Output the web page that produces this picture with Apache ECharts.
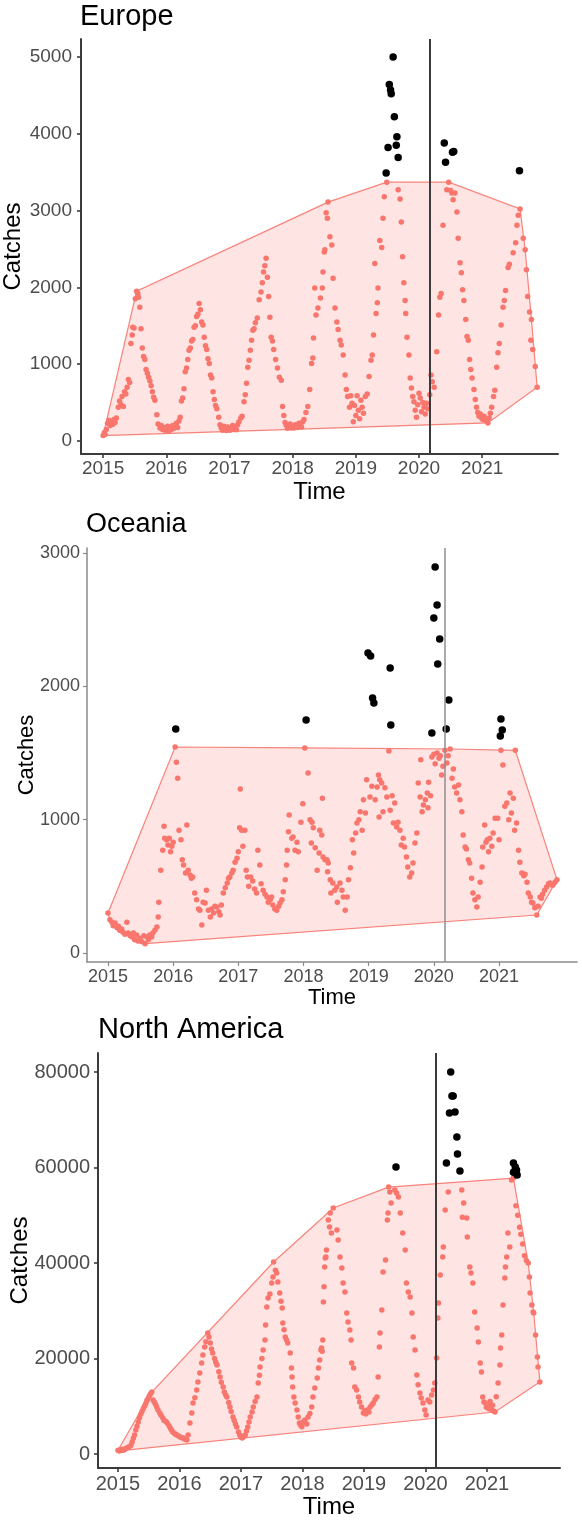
<!DOCTYPE html>
<html>
<head>
<meta charset="utf-8">
<title>Catches by region</title>
<script src="https://cdn.jsdelivr.net/npm/echarts@6/dist/echarts.min.js"></script>
<style>
  html, body { margin: 0; padding: 0; background: #fff; }
  #main { width: 582px; height: 1523px; }
</style>
</head>
<body>
<div id="main"></div>
<script>
// weekly catches, [decimal year, catches]
const europeCatches = [
  [2015.00,70],[2015.02,110],[2015.03,85],[2015.05,150],[2015.07,230],[2015.09,270],[2015.11,200],[2015.13,250],[2015.15,215],[2015.17,280],[2015.19,240],[2015.21,300],
  [2015.24,440],[2015.26,520],[2015.28,470],[2015.30,580],[2015.32,450],[2015.34,640],[2015.36,610],[2015.38,700],[2015.40,800],[2015.42,760],[2015.44,1270],[2015.46,1380],
  [2015.47,1480],[2015.49,1470],[2015.51,1850],[2015.53,1950],[2015.55,1920],[2015.56,1870],[2015.58,1740],[2015.60,1460],[2015.62,1210],[2015.64,1100],[2015.66,1060],
  [2015.68,930],[2015.70,880],[2015.72,830],[2015.74,780],[2015.76,720],[2015.78,640],[2015.80,570],[2015.82,530],[2015.85,340],[2015.87,220],[2015.90,170],[2015.92,200],
  [2015.94,150],[2015.96,175],[2015.98,140],[2016.00,160],[2016.02,190],[2016.04,130],[2016.06,170],[2016.08,150],[2016.10,200],[2016.12,165],[2016.14,190],[2016.16,230],
  [2016.18,175],[2016.20,260],[2016.22,310],[2016.24,520],[2016.26,560],[2016.28,680],[2016.30,900],[2016.32,950],[2016.34,1060],[2016.36,1180],[2016.38,1210],[2016.40,1300],
  [2016.42,1320],[2016.44,1480],[2016.46,1500],[2016.48,1620],[2016.50,1650],[2016.52,1790],[2016.54,1710],[2016.56,1550],[2016.58,1510],[2016.60,1350],[2016.62,1240],
  [2016.64,1190],[2016.66,1070],[2016.68,1010],[2016.70,860],[2016.72,820],[2016.74,640],[2016.76,540],[2016.78,460],[2016.80,420],[2016.83,310],[2016.85,210],[2016.87,170],
  [2016.89,140],[2016.91,190],[2016.93,160],[2016.95,135],[2016.97,180],[2016.99,145],[2017.01,140],[2017.03,170],[2017.05,200],[2017.07,150],[2017.09,175],[2017.11,145],
  [2017.13,210],[2017.15,250],[2017.18,300],[2017.20,320],[2017.23,510],[2017.25,600],[2017.27,750],[2017.29,960],[2017.31,1050],[2017.33,1180],[2017.35,1310],[2017.37,1440],
  [2017.39,1460],[2017.41,1540],[2017.44,1600],[2017.47,1840],[2017.50,1940],[2017.52,2060],[2017.54,2200],[2017.56,2280],[2017.58,2380],[2017.60,2130],[2017.62,1880],
  [2017.64,1610],[2017.66,1350],[2017.68,1300],[2017.70,1190],[2017.73,1060],[2017.76,950],[2017.79,830],[2017.82,790],[2017.84,450],[2017.86,330],[2017.88,240],[2017.90,200],
  [2017.92,165],[2017.94,190],[2017.96,220],[2017.98,170],[2018.00,185],[2018.02,170],[2018.04,210],[2018.06,180],[2018.08,175],[2018.10,230],[2018.12,200],[2018.14,180],
  [2018.16,250],[2018.18,280],[2018.21,370],[2018.24,450],[2018.27,670],[2018.30,1010],[2018.32,1080],[2018.33,1340],[2018.35,1990],[2018.37,1640],[2018.40,1730],[2018.44,1860],
  [2018.47,1990],[2018.48,2200],[2018.50,2460],[2018.51,2490],[2018.53,2970],[2018.55,2900],[2018.56,3110],[2018.59,2660],[2018.62,2550],[2018.64,2120],[2018.67,1730],
  [2018.70,1550],[2018.72,1450],[2018.75,1310],[2018.77,1250],[2018.80,1120],[2018.83,860],[2018.85,670],[2018.87,580],[2018.90,440],[2018.92,590],[2018.94,490],[2018.96,250],
  [2018.98,460],[2019.00,330],[2019.02,590],[2019.04,400],[2019.06,290],[2019.08,530],[2019.10,440],[2019.12,360],[2019.15,580],[2019.18,610],[2019.21,840],[2019.24,1050],
  [2019.26,1120],[2019.28,1380],[2019.30,2310],[2019.32,1660],[2019.34,1800],[2019.35,1990],[2019.38,2610],[2019.41,2520],[2019.43,2900],[2019.45,3180],[2019.49,3370],
  [2019.67,3270],[2019.70,3150],[2019.72,2850],[2019.74,2400],[2019.76,2060],[2019.78,1830],[2019.79,1660],[2019.81,1350],[2019.84,1120],[2019.86,820],[2019.88,690],
  [2019.90,580],[2019.92,510],[2019.94,400],[2019.96,310],[2019.98,470],[2020.00,620],[2020.02,560],[2020.04,380],[2020.06,500],[2020.08,440],[2020.10,350],[2020.12,490],
  [2020.14,420],[2020.17,600],[2020.19,860],[2020.21,770],[2020.24,700],[2020.28,1160],[2020.31,1640],[2020.33,1870],[2020.35,1920],[2020.38,2810],[2020.44,3270],[2020.47,3370],
  [2020.50,3260],[2020.52,3230],[2020.54,3140],[2020.57,3230],[2020.60,2980],[2020.62,2640],[2020.65,2320],[2020.67,2190],[2020.69,1970],[2020.71,1830],[2020.74,1580],
  [2020.76,1360],[2020.78,1310],[2020.80,1060],[2020.82,930],[2020.84,820],[2020.87,670],[2020.89,540],[2020.91,440],[2020.93,370],[2020.95,320],[2020.97,350],[2020.99,300],
  [2021.01,280],[2021.03,320],[2021.05,270],[2021.07,260],[2021.09,235],[2021.11,300],[2021.13,360],[2021.15,440],[2021.18,580],[2021.20,660],[2021.23,960],[2021.25,1150],
  [2021.27,1270],[2021.30,1510],[2021.33,1740],[2021.35,1830],[2021.37,1960],[2021.41,2260],[2021.43,2300],[2021.49,2450],[2021.53,2580],[2021.55,2810],[2021.57,2940],
  [2021.60,3020],[2021.65,2640],[2021.68,2490],[2021.70,2230],[2021.72,1880],[2021.75,1680],[2021.77,1310],[2021.78,1580],[2021.80,1190],[2021.84,970],[2021.87,700]
];
const europeOutliers = [
  [2019.48,3490],[2019.51,3820],[2019.53,4640],[2019.55,4570],[2019.56,4520],[2019.59,5000],[2019.61,4220],[2019.64,3850],[2019.65,3960],[2019.67,3690],
  [2020.40,3880],[2020.42,3630],[2020.53,3760],[2020.55,3770],[2021.59,3520]
];

const oceaniaCatches = [
  [2015.00,300],[2015.03,250],[2015.06,230],[2015.08,205],[2015.11,225],[2015.14,190],[2015.16,200],[2015.18,170],[2015.21,180],[2015.23,155],[2015.26,140],[2015.29,230],
  [2015.31,150],[2015.34,130],[2015.37,120],[2015.39,150],[2015.41,100],[2015.44,135],[2015.46,90],[2015.49,110],[2015.52,85],[2015.55,130],[2015.57,70],[2015.60,120],
  [2015.62,100],[2015.64,135],[2015.67,120],[2015.69,150],[2015.72,170],[2015.75,195],[2015.77,270],[2015.78,380],[2015.81,620],[2015.84,770],[2015.86,950],[2015.87,860],
  [2015.90,850],[2015.92,810],[2015.94,860],[2015.96,760],[2015.98,800],[2016.00,830],[2016.03,1545],[2016.05,1430],[2016.07,1310],[2016.09,920],[2016.12,850],[2016.14,700],
  [2016.16,660],[2016.19,600],[2016.21,960],[2016.23,620],[2016.26,585],[2016.28,560],[2016.30,570],[2016.33,450],[2016.36,400],[2016.39,330],[2016.41,320],[2016.44,210],
  [2016.46,380],[2016.49,375],[2016.51,470],[2016.54,320],[2016.57,270],[2016.59,330],[2016.62,300],[2016.64,350],[2016.67,345],[2016.70,310],[2016.72,285],[2016.74,360],
  [2016.77,450],[2016.80,490],[2016.83,525],[2016.85,560],[2016.87,570],[2016.90,600],[2016.92,620],[2016.95,680],[2016.98,710],[2017.00,760],[2017.02,940],[2017.03,1230],
  [2017.05,920],[2017.07,800],[2017.10,920],[2017.12,620],[2017.14,570],[2017.16,500],[2017.19,570],[2017.22,540],[2017.25,480],[2017.28,450],[2017.30,770],[2017.33,660],
  [2017.35,520],[2017.38,470],[2017.41,440],[2017.44,420],[2017.46,380],[2017.49,400],[2017.51,420],[2017.53,360],[2017.56,330],[2017.59,320],[2017.62,350],[2017.64,375],
  [2017.67,400],[2017.69,460],[2017.72,550],[2017.74,660],[2017.75,770],[2017.77,910],[2017.78,1035],[2017.82,860],[2017.84,870],[2017.87,770],[2017.90,830],[2017.92,760],
  [2017.96,980],[2017.99,1120],[2018.02,1538],[2018.07,1350],[2018.10,1000],[2018.12,825],[2018.13,980],[2018.15,940],[2018.18,790],[2018.21,620],[2018.24,750],[2018.25,920],
  [2018.28,885],[2018.29,1160],[2018.30,720],[2018.33,700],[2018.36,700],[2018.37,610],[2018.38,675],[2018.41,550],[2018.42,450],[2018.45,525],[2018.48,470],[2018.51,495],
  [2018.52,380],[2018.56,525],[2018.59,470],[2018.61,420],[2018.64,320],[2018.67,420],[2018.69,550],[2018.72,640],[2018.75,850],[2018.77,750],[2018.80,900],[2018.82,975],
  [2018.85,1000],[2018.87,1060],[2018.90,920],[2018.92,1150],[2018.95,1050],[2018.97,1300],[2019.02,1170],[2019.05,1250],[2019.10,1150],[2019.13,1245],[2019.15,1335],
  [2019.16,1020],[2019.17,1300],[2019.20,1275],[2019.22,1060],[2019.25,1240],[2019.28,1170],[2019.31,1515],[2019.33,1070],[2019.36,1180],[2019.38,975],[2019.40,1125],
  [2019.43,945],[2019.45,980],[2019.48,920],[2019.50,810],[2019.53,860],[2019.55,795],[2019.58,720],[2019.60,645],[2019.63,570],[2019.66,600],[2019.68,675],[2019.71,825],
  [2019.74,900],[2019.76,1275],[2019.79,1170],[2019.80,1450],[2019.82,1060],[2019.84,1110],[2019.87,1150],[2019.90,1200],[2019.91,1090],[2019.92,1280],[2019.95,1180],
  [2019.97,1470],[2020.00,1490],[2020.02,1420],[2020.05,1500],[2020.08,1460],[2020.10,1480],[2020.12,1335],[2020.14,1400],[2020.17,1520],[2020.20,1425],[2020.22,1480],
  [2020.25,1530],[2020.28,1310],[2020.30,1380],[2020.32,1245],[2020.35,1200],[2020.38,1260],[2020.40,1150],[2020.43,1060],[2020.45,885],[2020.48,795],[2020.50,780],
  [2020.53,700],[2020.55,675],[2020.58,560],[2020.60,450],[2020.63,400],[2020.66,345],[2020.68,420],[2020.71,530],[2020.74,645],[2020.75,795],[2020.78,960],[2020.80,830],
  [2020.82,850],[2020.84,760],[2020.86,860],[2020.89,800],[2020.91,900],[2020.94,1010],[2020.98,1010],[2021.00,850],[2021.03,1520],[2021.06,1410],[2021.09,1100],
  [2021.12,1125],[2021.15,1000],[2021.17,1200],[2021.19,1050],[2021.22,1160],[2021.24,920],[2021.25,1520],[2021.27,975],[2021.30,770],[2021.32,680],[2021.35,600],
  [2021.38,580],[2021.40,590],[2021.43,530],[2021.45,450],[2021.48,420],[2021.50,380],[2021.52,375],[2021.55,340],[2021.58,285],[2021.60,350],[2021.63,420],[2021.65,410],
  [2021.67,440],[2021.70,470],[2021.73,495],[2021.76,520],[2021.78,525],[2021.81,510],[2021.83,510],[2021.86,530],[2021.89,550]
];
const oceaniaOutliers = [
  [2016.04,1680],[2018.04,1748],[2018.99,2250],[2019.03,2228],[2019.06,1912],[2019.08,1875],[2019.33,2138],[2019.34,1710],[2019.97,1650],[2020.00,2512],
  [2020.02,2895],[2020.05,2610],[2020.06,2168],[2020.09,2355],[2020.19,1680],[2020.23,1898],[2021.02,1628],[2021.03,1755],[2021.05,1672]
];

const northAmericaCatches = [
  [2015.00,800],[2015.02,650],[2015.04,900],[2015.06,750],[2015.08,1000],[2015.10,850],[2015.12,1100],[2015.15,1300],[2015.18,1500],[2015.21,1800],[2015.23,2500],
  [2015.25,3300],[2015.27,4000],[2015.29,5000],[2015.31,5800],[2015.33,6700],[2015.35,7600],[2015.37,8300],[2015.39,8900],[2015.41,9500],[2015.43,10000],[2015.45,10500],
  [2015.47,11200],[2015.49,11600],[2015.51,12200],[2015.53,12600],[2015.55,12980],[2015.57,11300],[2015.59,10900],[2015.61,10400],[2015.63,9840],[2015.65,9200],
  [2015.68,8585],[2015.70,8100],[2015.73,7540],[2015.75,7000],[2015.78,6800],[2015.80,6490],[2015.83,5900],[2015.85,5440],[2015.87,5000],[2015.89,4610],[2015.92,4300],
  [2015.94,4100],[2015.96,3980],[2015.99,3700],[2016.01,3560],[2016.04,3400],[2016.06,3350],[2016.09,3100],[2016.12,2930],[2016.14,3980],[2016.17,6490],[2016.20,8585],
  [2016.22,10680],[2016.25,11800],[2016.28,13400],[2016.30,15080],[2016.33,16960],[2016.36,19060],[2016.38,20730],[2016.41,22400],[2016.43,23500],[2016.46,25340],
  [2016.48,24500],[2016.50,23240],[2016.52,22000],[2016.54,21150],[2016.57,20000],[2016.59,19200],[2016.61,18640],[2016.64,17200],[2016.66,16120],[2016.68,15000],
  [2016.71,14030],[2016.73,13000],[2016.75,12400],[2016.77,11940],[2016.80,10800],[2016.82,9840],[2016.84,8900],[2016.87,7750],[2016.89,7000],[2016.91,6300],[2016.93,5650],
  [2016.96,4600],[2016.98,3980],[2017.00,3500],[2017.02,3350],[2017.05,3700],[2017.07,3980],[2017.09,4800],[2017.11,5650],[2017.13,6700],[2017.15,7750],[2017.18,8800],
  [2017.20,9840],[2017.23,11000],[2017.26,11940],[2017.28,14870],[2017.30,16500],[2017.31,18220],[2017.34,20000],[2017.36,21780],[2017.39,23870],[2017.40,27010],
  [2017.42,30780],[2017.44,32670],[2017.47,33500],[2017.50,35810],[2017.52,37060],[2017.53,40200],[2017.56,38500],[2017.58,37900],[2017.60,36000],[2017.63,33710],
  [2017.65,32000],[2017.67,30570],[2017.68,27430],[2017.70,26000],[2017.72,24500],[2017.74,23900],[2017.76,23240],[2017.80,21150],[2017.82,18000],[2017.83,16120],
  [2017.84,14030],[2017.86,11940],[2017.88,10680],[2017.91,9210],[2017.93,7750],[2017.95,6500],[2017.97,6000],[2017.99,5700],[2018.01,6700],[2018.04,7120],[2018.07,6300],
  [2018.09,7750],[2018.12,8500],[2018.15,9840],[2018.17,11940],[2018.20,13800],[2018.24,15910],[2018.26,18000],[2018.28,19680],[2018.30,21780],[2018.31,22190],
  [2018.32,21500],[2018.33,23870],[2018.34,31830],[2018.35,35000],[2018.36,39160],[2018.37,41040],[2018.38,41250],[2018.39,42720],[2018.42,49000],[2018.44,47530],
  [2018.45,50460],[2018.47,46280],[2018.50,51510],[2018.56,46900],[2018.58,44810],[2018.61,41250],[2018.64,38950],[2018.66,35810],[2018.69,33920],[2018.72,29530],
  [2018.74,27640],[2018.77,25970],[2018.79,23870],[2018.80,19060],[2018.83,18010],[2018.85,14030],[2018.88,13400],[2018.91,11940],[2018.93,10890],[2018.96,9840],
  [2018.99,8585],[2019.01,9000],[2019.03,8400],[2019.05,9210],[2019.08,8800],[2019.10,9840],[2019.13,10300],[2019.15,10680],[2019.18,11400],[2019.21,11940],[2019.23,16120],
  [2019.25,22400],[2019.26,25340],[2019.29,30150],[2019.31,38110],[2019.35,40620],[2019.38,49000],[2019.39,50460],[2019.40,55900],[2019.42,54860],[2019.44,52560],
  [2019.50,55280],[2019.53,54650],[2019.56,53820],[2019.59,50460],[2019.63,46280],[2019.67,42720],[2019.69,35810],[2019.72,33920],[2019.75,32880],[2019.78,29530],
  [2019.80,24500],[2019.83,21780],[2019.86,16540],[2019.88,14500],[2019.91,12770],[2019.93,11730],[2019.96,10680],[2019.99,9210],[2020.01,8170],[2020.04,11300],
  [2020.07,10890],[2020.10,12350],[2020.13,13400],[2020.15,14870],[2020.18,20100],[2020.20,28480],[2020.21,31620],[2020.24,37480],[2020.28,41250],[2020.29,43350],
  [2020.32,51090],[2020.37,54860],[2020.59,55280],[2020.60,49600],[2020.62,52560],[2020.67,49420],[2020.68,45440],[2020.72,39160],[2020.74,37900],[2020.77,35810],
  [2020.80,29740],[2020.84,26380],[2020.86,23450],[2020.89,19060],[2020.91,17170],[2020.93,11940],[2020.95,10890],[2020.97,10680],[2020.99,9800],[2021.01,10300],
  [2021.03,9500],[2021.05,11000],[2021.07,9300],[2021.09,10200],[2021.11,9000],[2021.13,8800],[2021.15,12000],[2021.18,14870],[2021.21,18640],[2021.22,22190],
  [2021.24,24920],[2021.26,31200],[2021.29,36850],[2021.30,39160],[2021.32,41250],[2021.34,46280],[2021.37,43350],[2021.40,57370],[2021.43,57790],[2021.47,52000],
  [2021.50,50000],[2021.53,47500],[2021.55,46000],[2021.58,44000],[2021.61,41500],[2021.64,40500],[2021.67,40000],[2021.69,37060],[2021.70,33710],[2021.73,31200],
  [2021.75,29740],[2021.76,29530],[2021.79,24920],[2021.82,20310],[2021.83,18220],[2021.86,15080]
];
const northAmericaOutliers = [
  [2019.52,60100],[2020.34,60940],[2020.39,71400],[2020.41,80000],[2020.43,74970],[2020.45,74970],[2020.48,71610],[2020.51,66380],[2020.52,62820],[2020.56,59260],
  [2021.43,60940],[2021.43,59000],[2021.46,60100],[2021.48,59470],[2021.49,58420]
];

const yearTicks = [2015, 2016, 2017, 2018, 2019, 2020, 2021];
const europeTicks = [0, 1000, 2000, 3000, 4000, 5000];
const oceaniaTicks = [0, 1000, 2000, 3000];
const northAmericaTicks = [0, 20000, 40000, 60000, 80000];
const lockdown = 2020.17;

const font = "'Liberation Sans', Arial, sans-serif";

const panels = [
  {
    title: 'Europe', red: europeCatches, out: europeOutliers, yTicks: europeTicks,
    titleLeft: 80, titleTop: 2, titleSize: 29,
    grid: { left: 81, top: 39, width: 477, height: 415 },
    xMin: 2014.65, xMax: 2022.2, yMin: -170, yMax: 5234,
    tickSize: 19, nameSize: 24, xNameGap: 26, yNameGap: 56, xMargin: 5, yMargin: 9,
    axisColor: '#3b3b3b', axisWidth: 2, vColor: '#3b3b3b', vWidth: 2
  },
  {
    title: 'Oceania', red: oceaniaCatches, out: oceaniaOutliers, yTicks: oceaniaTicks,
    titleLeft: 86, titleTop: 511, titleSize: 27,
    grid: { left: 87, top: 548, width: 490, height: 414 },
    xMin: 2014.678, xMax: 2022.197, yMin: -67.5, yMax: 3037.5,
    tickSize: 18, nameSize: 22, xNameGap: 24, yNameGap: 49, xMargin: 6, yMargin: 7,
    axisColor: '#8a8a8a', axisWidth: 1.5, vColor: '#8f8f8f', vWidth: 1.5
  },
  {
    title: 'North America', red: northAmericaCatches, out: northAmericaOutliers, yTicks: northAmericaTicks,
    titleLeft: 98, titleTop: 1015, titleSize: 29,
    grid: { left: 98, top: 1053, width: 462, height: 415 },
    xMin: 2014.675, xMax: 2022.187, yMin: -2932, yMax: 83979,
    tickSize: 20, nameSize: 24, xNameGap: 27, yNameGap: 66, xMargin: 6, yMargin: 8,
    axisColor: '#3b3b3b', axisWidth: 2, vColor: '#3b3b3b', vWidth: 2
  }
];

// convex hull of the non-outlier points (monotone chain)
function convexHull(points) {
  const p = points.slice().sort((a, b) => a[0] - b[0] || a[1] - b[1]);
  const cross = (o, a, b) => (a[0] - o[0]) * (b[1] - o[1]) - (a[1] - o[1]) * (b[0] - o[0]);
  const lower = [], upper = [];
  for (const q of p) {
    while (lower.length >= 2 && cross(lower[lower.length - 2], lower[lower.length - 1], q) <= 0) lower.pop();
    lower.push(q);
  }
  for (let i = p.length - 1; i >= 0; i--) {
    const q = p[i];
    while (upper.length >= 2 && cross(upper[upper.length - 2], upper[upper.length - 1], q) <= 0) upper.pop();
    upper.push(q);
  }
  upper.pop();
  lower.pop();
  return lower.concat(upper);
}

const plain = v => String(v);

const option = {
  animation: false,
  backgroundColor: '#fff',
  title: panels.map(p => ({
    text: p.title, left: p.titleLeft, top: p.titleTop, padding: 0,
    textStyle: { fontFamily: font, fontSize: p.titleSize, fontWeight: 'normal', color: '#000' }
  })),
  grid: panels.map(p => Object.assign({ outerBoundsMode: 'none', containLabel: false }, p.grid)),
  xAxis: panels.map((p, i) => ({
    gridIndex: i, type: 'value', min: p.xMin, max: p.xMax,
    name: 'Time', nameLocation: 'middle', nameGap: p.xNameGap,
    nameTextStyle: { fontFamily: font, fontSize: p.nameSize, color: '#000' },
    axisLine: { show: true, onZero: false, lineStyle: { color: p.axisColor, width: p.axisWidth } },
    axisTick: { show: true, length: 4, customValues: yearTicks, lineStyle: { color: p.axisColor, width: p.axisWidth * 0.8 } },
    axisLabel: { customValues: yearTicks, formatter: plain, margin: p.xMargin, fontFamily: font, fontSize: p.tickSize, color: '#4d4d4d' },
    splitLine: { show: false }
  })),
  yAxis: panels.map((p, i) => ({
    gridIndex: i, type: 'value', min: p.yMin, max: p.yMax,
    name: 'Catches', nameLocation: 'middle', nameGap: p.yNameGap, nameMoveOverlap: false,
    nameTextStyle: { fontFamily: font, fontSize: p.nameSize, color: '#000' },
    axisLine: { show: true, onZero: false, lineStyle: { color: p.axisColor, width: p.axisWidth } },
    axisTick: { show: true, length: 4, customValues: p.yTicks, lineStyle: { color: p.axisColor, width: p.axisWidth * 0.8 } },
    axisLabel: { customValues: p.yTicks, formatter: plain, margin: p.yMargin, fontFamily: font, fontSize: p.tickSize, color: '#4d4d4d' },
    splitLine: { show: false }
  })),
  series: []
};

panels.forEach((p, i) => {
  const hull = convexHull(p.red);
  option.series.push({
    type: 'custom', xAxisIndex: i, yAxisIndex: i, z: 1, silent: true,
    data: hull,
    renderItem: function (params, api) {
      if (params.dataIndex !== 0) return null;
      return {
        type: 'polygon',
        shape: { points: hull.map(pt => api.coord(pt)) },
        style: { fill: 'rgba(248,118,109,0.2)', stroke: 'rgba(248,118,109,0.9)', lineWidth: 1.2 }
      };
    }
  });
  option.series.push({
    type: 'scatter', xAxisIndex: i, yAxisIndex: i, z: 2, silent: true,
    symbolSize: 5.5, itemStyle: { color: '#F8766D', opacity: 1 },
    data: p.red
  });
  option.series.push({
    type: 'scatter', xAxisIndex: i, yAxisIndex: i, z: 3, silent: true,
    symbolSize: 7.5, itemStyle: { color: '#000', opacity: 1 },
    data: p.out,
    markLine: {
      silent: true, symbol: 'none', label: { show: false },
      lineStyle: { color: p.vColor, width: p.vWidth, type: 'solid' },
      data: [{ xAxis: lockdown }]
    }
  });
});

const chart = echarts.init(document.getElementById('main'), null, { renderer: 'canvas' });
chart.setOption(option);
</script>
</body>
</html>
